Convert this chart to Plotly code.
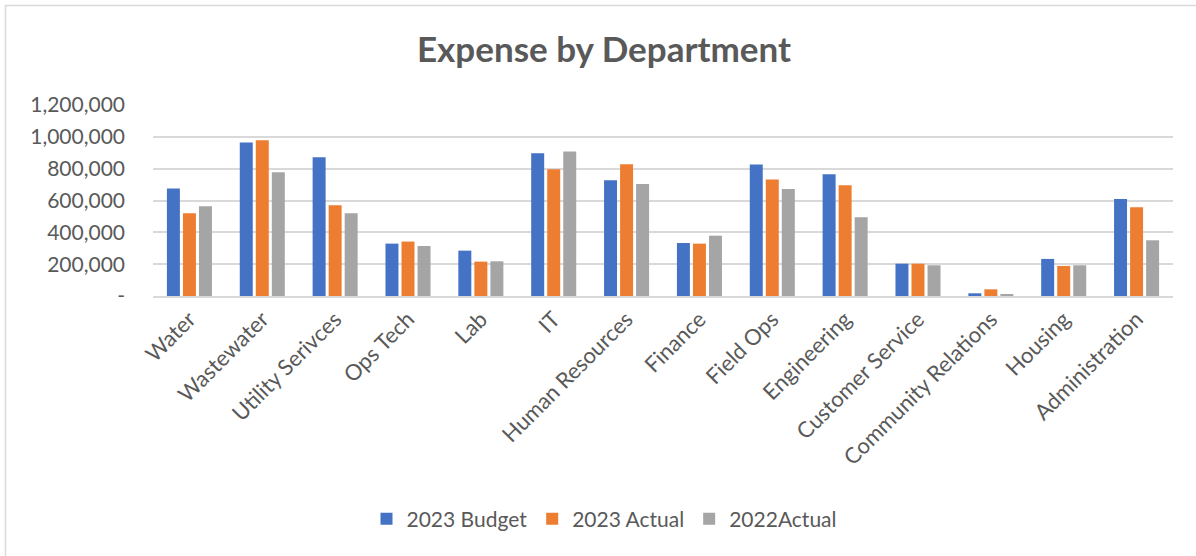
import plotly.graph_objects as go

categories = ["Water", "Wastewater", "Utility Serivces", "Ops Tech", "Lab", "IT",
              "Human Resources", "Finance", "Field Ops", "Engineering",
              "Customer Service", "Community Relations", "Housing", "Administration"]
budget_2023 = [675000, 964000, 872000, 329000, 285000, 897000, 727000, 333000,
               826000, 765000, 203000, 17000, 233000, 610000]
actual_2023 = [520000, 979000, 570000, 342000, 216000, 797000, 828000, 329000,
               732000, 696000, 203000, 42000, 189000, 558000]
actual_2022 = [564000, 778000, 520000, 314000, 218000, 908000, 704000, 379000,
               673000, 495000, 193000, 8000, 193000, 350000]
series_names = ["2023 Budget", "2023 Actual", "2022Actual"]
colors = ["#4472C4", "#ED7D31", "#A5A5A5"]
y_ticks = [0, 200000, 400000, 600000, 800000, 1000000, 1200000]
y_tick_labels = ["-", "200,000", "400,000", "600,000", "800,000", "1,000,000", "1,200,000"]

W, H = 1196, 556
L, R, T, B = 153, 23, 105, 260
pw, ph = W - L - R, H - T - B

def px_x(x):
    return (x - L) / pw

def px_y(y):
    return (H - B - y) / ph

FONT = "Lato"
TXT = "#595959"

fig = go.Figure()
for name, vals, c in zip(series_names, [budget_2023, actual_2023, actual_2022], colors):
    fig.add_trace(go.Bar(x=categories, y=vals, name=name, marker_color=c,
                         marker_line_width=0))

fig.update_layout(
    width=W, height=H,
    margin=dict(l=L, r=R, t=T, b=B, autoexpand=False),
    paper_bgcolor="white", plot_bgcolor="white",
    barmode="group", bargap=0.34, bargroupgap=0.19,
    title=dict(text="<b>Expense by Department</b>", x=604 / W, xref="container",
               xanchor="center", y=1 - 50 / H, yref="container", yanchor="middle",
               font=dict(family=FONT, size=35, color=TXT)),
    font=dict(family=FONT, color=TXT),
    legend=dict(orientation="h", x=px_x(604), xanchor="center",
                y=px_y(519), yanchor="middle",
                font=dict(family=FONT, size=21, color=TXT),
                itemwidth=30, traceorder="normal"),
    showlegend=True,
)
fig.update_xaxes(tickangle=-45, tickfont=dict(family=FONT, size=22, color=TXT),
                 showgrid=False, showline=True, linecolor="#D9D9D9", linewidth=1.5,
                 ticks="", automargin=False)
fig.update_yaxes(range=[0, 1200000], tickvals=y_ticks, ticktext=y_tick_labels,
                 tickfont=dict(family=FONT, size=21, color=TXT),
                 showgrid=True, gridcolor="#D9D9D9", gridwidth=1.5,
                 zeroline=False, showline=False, ticks="", ticklabelstandoff=27,
                 automargin=False)

# chart-area border (top and left edges)
fig.add_shape(type="line", xref="paper", yref="paper",
              x0=px_x(5), x1=px_x(W), y0=px_y(5.5), y1=px_y(5.5),
              line=dict(color="#D9D9D9", width=1.5))
fig.add_shape(type="line", xref="paper", yref="paper",
              x0=px_x(5.5), x1=px_x(5.5), y0=px_y(5), y1=px_y(H),
              line=dict(color="#D9D9D9", width=1.5))

fig.write_html("out.html")
